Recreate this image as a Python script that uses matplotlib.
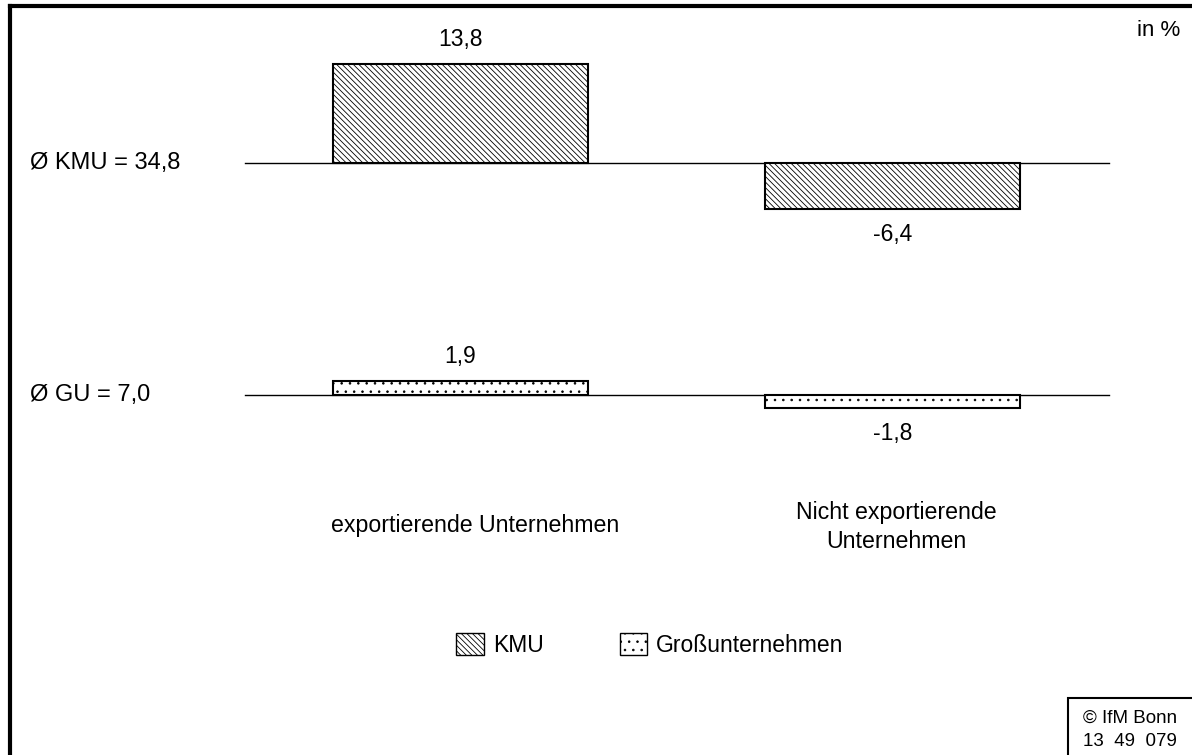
import matplotlib
matplotlib.use("Agg")
import matplotlib.pyplot as plt
from matplotlib.patches import Patch, Rectangle
from matplotlib.lines import Line2D
from matplotlib.transforms import blended_transform_factory

plt.rcParams['font.family'] = ['Liberation Sans', 'DejaVu Sans']
plt.rcParams['hatch.linewidth'] = 0.6

# Daten
kategorien = ['exportierende Unternehmen', 'Nicht exportierende\nUnternehmen']
kmu_werte = [13.8, -6.4]
gu_werte = [1.9, -1.8]
kmu_label = 'Ø KMU = 34,8'
gu_label = 'Ø GU = 7,0'
kmu_text = ['13,8', '-6,4']
gu_text = ['1,9', '-1,8']

# Lage der Grundlinien (in Prozentpunkten der Skala)
kmu_basis = 0.0
gu_basis = -32.2
breite = 0.59
kmu_hatch = '\\\\\\\\\\\\'
gu_hatch = '..'

fig = plt.figure(figsize=(11.92, 7.55), dpi=100)
ax = fig.add_axes([0, 0, 1, 1])
ax.axis('off')
ax.set_xlim(-460.5 / 432, (1192 - 460.5) / 432)
ax.set_ylim(-(755 - 163) / 7.2, 163 / 7.2)

x = list(range(len(kategorien)))

# Grundlinien
for basis in (kmu_basis, gu_basis):
    ax.plot([-0.5, 1.5], [basis, basis], color='black', lw=1.0, zorder=1)

ax.bar(x, kmu_werte, width=breite, bottom=kmu_basis, color='white',
       edgecolor='black', linewidth=1.5, hatch=kmu_hatch, zorder=2)
ax.bar(x, gu_werte, width=breite, bottom=gu_basis, color='white',
       edgecolor='black', linewidth=1.5, hatch=gu_hatch, zorder=2)

# Wertbeschriftungen
for xi, v, t in zip(x, kmu_werte, kmu_text):
    off = 17.5 if v > 0 else -18.5
    ax.annotate(t, (xi, kmu_basis + v), xytext=(0, off), textcoords='offset points',
                ha='center', va='center', fontsize=16.5)
for xi, v, t in zip(x, gu_werte, gu_text):
    off = 17.5 if v > 0 else -18.5
    ax.annotate(t, (xi, gu_basis + v), xytext=(0, off), textcoords='offset points',
                ha='center', va='center', fontsize=16.5)

# Grundlinien-Beschriftung links
trans = blended_transform_factory(fig.transFigure, ax.transData)
ax.text(30 / 1192, kmu_basis, kmu_label, transform=trans, ha='left', va='center', fontsize=17)
ax.text(30 / 1192, gu_basis, gu_label, transform=trans, ha='left', va='center', fontsize=17)

# Kategorien
ax.text(x[0] + 0.035, -50.4, kategorien[0], ha='center', va='center', fontsize=16.7)
ax.text(x[1] + 0.008, -50.6, kategorien[1], ha='center', va='center', fontsize=16.7, linespacing=1.35)

# Legende
handles = [Patch(facecolor='white', edgecolor='black', hatch=kmu_hatch, label='KMU'),
           Patch(facecolor='white', edgecolor='black', hatch=gu_hatch, label='Großunternehmen')]
fig.legend(handles=handles, loc='center', bbox_to_anchor=(650 / 1192, 1 - 645 / 755),
           ncol=2, frameon=False, fontsize=16.5, handlelength=1.2, handleheight=1.1,
           handletextpad=0.4, columnspacing=3.3)

fig.text(1180 / 1192, 1 - 30 / 755, 'in %', ha='right', va='center', fontsize=16)

# Rahmen oben und links
fig.add_artist(Line2D([10 / 1192, 10 / 1192], [0, 1 - 6 / 755], color='black', lw=3,
                      transform=fig.transFigure))
fig.add_artist(Line2D([10 / 1192, 1], [1 - 6 / 755, 1 - 6 / 755], color='black', lw=3,
                      transform=fig.transFigure))

# Copyright-Kasten
fig.add_artist(Rectangle((1068 / 1192, -0.01), 0.2, (755 - 698) / 755 + 0.01,
                         transform=fig.transFigure, facecolor='white',
                         edgecolor='black', lw=1.5))
fig.text(1130 / 1192, 1 - 718 / 755, '© IfM Bonn', ha='center', va='center', fontsize=13.5)
fig.text(1130 / 1192, 1 - 742 / 755, '13  49  079', ha='center', va='center', fontsize=13.5)

fig.savefig('out.png', dpi=100)
